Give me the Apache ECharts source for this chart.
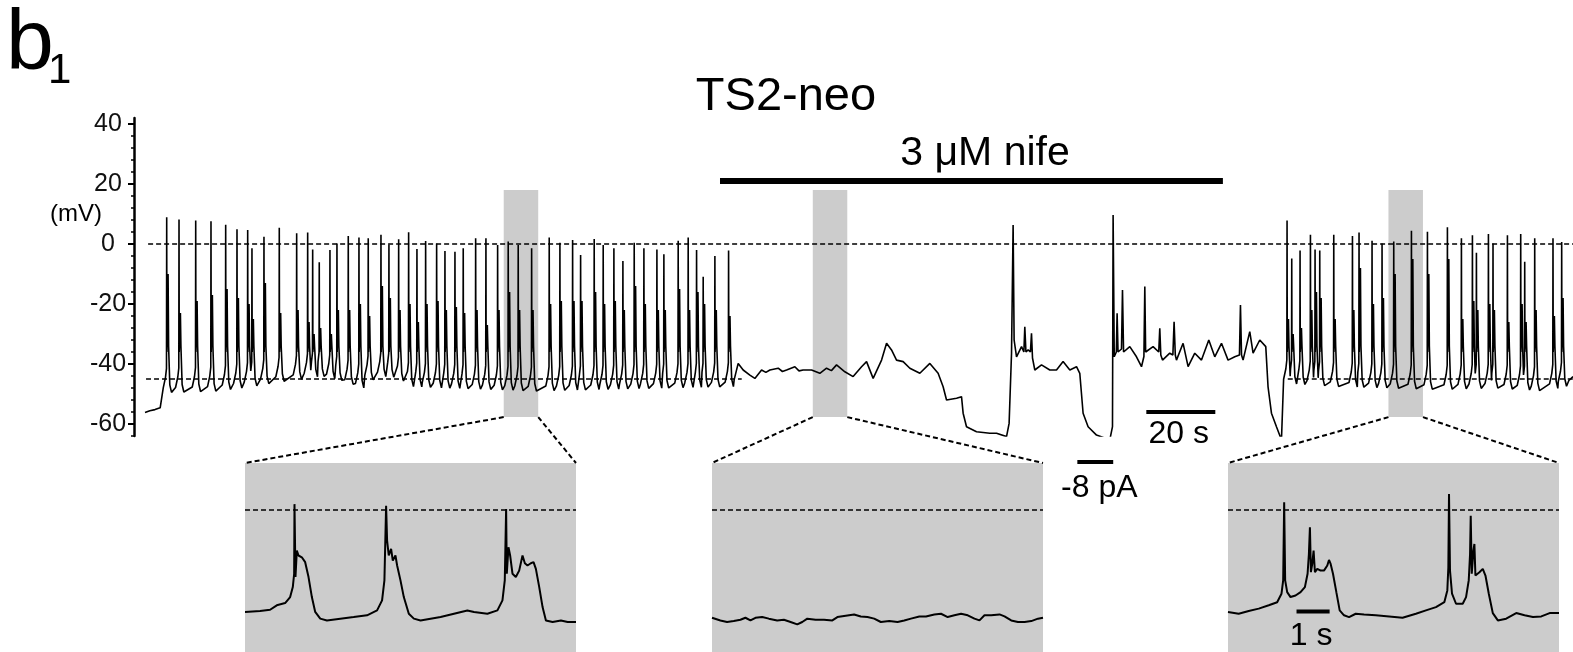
<!DOCTYPE html>
<html><head><meta charset="utf-8">
<script src="https://cdn.jsdelivr.net/npm/echarts@6/dist/echarts.min.js"></script>
<style>html,body{margin:0;padding:0;background:#fff}#chart{width:1573px;height:652px}</style>
</head><body><div id="chart"></div>
<script>
// ---------------- DATA ----------------
// main recording: time in s, membrane potential in mV
const yTickLabels = [-60, -40, -20, 0, 20, 40];
const yMinorTicks = [-64, -56, -52, -48, -44, -36, -32, -28, -24, -16, -12, -8, -4, 4, 8, 12, 16, 24, 28, 32, 36];

// spike times (s), peak potentials (mV) and after-depolarisation heights (mV)
const spikeTimes = [6.29, 9.86, 14.70, 19.13, 23.39, 26.67, 29.77, 31.01, 34.49, 38.93, 43.97, 47.16, 48.61, 50.52, 53.62, 55.65, 58.93, 62.03, 64.72, 68.41, 70.72, 73.54, 76.43, 78.84, 81.36, 84.55, 86.96,
  89.86, 92.26, 95.86, 98.84, 102.23, 105.30, 108.20, 112.09, 117.19, 120.29, 123.97, 126.29, 130.23, 132.84, 135.94, 138.55, 141.83, 144.64, 148.41, 150.43, 154.58, 157.48, 159.91, 161.83, 165.22, 169.19,
  331.10, 332.46, 334.87, 337.88, 339.22, 340.58, 344.64, 350.06, 351.97, 355.74, 358.64, 362.03, 367.16, 371.80, 377.59, 381.65, 384.84, 386.00, 389.48, 390.81, 394.99, 398.84, 400.00, 402.90, 408.20, 410.72];
const spikePeaks = [8.9, 8.2, 7.8, 7.6, 6.4, 4.9, 4.7, -1.4, 2.4, 5.4, 3.6, 3.8, -1.8, -6.1, -2.0, 0.2, 2.7, 2.2, 1.9, 3.1, -0.2, 1.6, 3.9, -1.7, 1.0, 0.2, -2.3,
  -2.6, -1.4, 1.9, 1.9, -0.3, 0.8, -0.3, -1.4, 2.2, 0.4, 1.3, -3.7, 1.7, -0.3, -1.4, -5.7, 0.4, -1.4, -1.8, -3.4, 1.1, 2.2, -2.0, -10.9, -4.0, -2.2,
  7.8, -4.8, -2.2, 3.1, -1.8, -2.2, 3.1, 2.7, 3.8, 1.1, 0.2, 0.8, 4.4, 4.1, 5.6, 1.9, 2.9, -2.9, 3.3, 0.2, 2.9, 3.3, -5.9, 1.9, 1.9, 0.7];
const spikeAdp = [-10, -23, -19, -17, -15, -18, -20, -25, -13, -23, -22, -26, -30, -28, -30, -22, -22, -20, -24, -14, -18, -22, -20, -26, -20, -19, -22,
  -21, -23, -22, -27, -22, -16, -22, -22, -20, -19, -19, -19, -16, -20, -19, -22, -14, -20, -22, -22, -15, -22, -16, -20, -22, -24,
  -25, -30, -28, -22, -16, -18, -25, -22, -8, -20, -18, -10, -5, -10, -5, -25, -19, -22, -20, -22, -26, -20, -26, -22, -24, -18];
// resting level between spikes [s, mV]
const baseLevel = [[5, -48], [20, -47.5], [30, -46], [37, -44.5], [45, -43.5], [50, -42.5], [56, -44], [62, -46.5], [66, -42.5], [72, -43], [76, -46], [86, -46.5], [100, -47], [112, -47.5], [130, -47], [150, -46.5], [170, -46],
  [330, -45], [345, -46], [360, -46.5], [375, -47], [390, -46.5], [405, -47.5], [414, -45]];
// non-spiking parts of the trace [s, mV]
const traceRaw = [[0, -56.2], [1.4, -55.6], [2.9, -55.2], [4.4, -54.6], [4.8, -54.2],
  [170.8, -45.3], [171.97, -39.8], [173.42, -42], [175.36, -43.7], [176.81, -44.8], [178.75, -42], [180.0, -42.8], [181.16, -42], [183.57, -41.4], [184.8, -42.5], [186.0, -42], [188.41, -40.9], [189.6, -42.3], [190.81, -42], [193.25, -42], [195.65, -43.1], [197.59, -41.4], [199.0, -42.2], [200.49, -40.3], [202.9, -42.6], [205.3, -44.2], [207.74, -40.9], [209.19, -39.2], [211.1, -44.8], [213.54, -38.7], [214.99, -33.1], [216.43, -35.3], [217.88, -38.7], [219.8, -39.2], [221.74, -41.4], [224.64, -43.1], [227.54, -39.8], [229.94, -43.1], [231.39, -47.6], [232.38, -52], [235.28, -51.4], [236.72, -50.9], [237.19, -56.4], [238.17, -60.9], [241.07, -62.6], [244.93, -63.1], [246.87, -63.1], [249.77, -64.2], [250.52, -59.8], [251.22, -36.4], [251.68, 6.3], [251.97, -32], [252.67, -37.6], [254.12, -34.2], [254.8, -36], [255.07, -27.6], [255.4, -36], [256.03, -35.3], [256.7, -36], [257.01, -29.8], [257.3, -38], [257.97, -42], [259.91, -40.3], [262.32, -42], [264.26, -42], [266.17, -39.2], [268.12, -42], [270.06, -40.9], [271.01, -43.1], [271.97, -56.4], [273.42, -60.9], [275.86, -63.7], [279.71, -65.3], [280.49, -60.9], [280.67, 9.7], [281.0, -37.6], [281.6, -36], [281.83, -23.1], [282.1, -36], [282.61, -36.4], [283.1, -35], [283.39, -15.3], [283.7, -36], [284.06, -36.4], [285.51, -34.2], [287.45, -37.6], [288.9, -40.9], [289.6, -37.5], [289.86, -14.2], [290.1, -36], [290.52, -36.4], [292.26, -34.2], [293.9, -36], [294.2, -28.1], [294.5, -37], [294.99, -38.7], [297.1, -36.4], [298.0, -37], [298.35, -25.9], [298.7, -37], [299.04, -38.7], [300.96, -33.1], [302.41, -40.9], [304.35, -36.4], [306.29, -38.7], [308.41, -32], [310.14, -37.6], [312.09, -33.1], [314.0, -38.7], [315.94, -37.6], [317.3, -37], [317.59, -20.3], [317.9, -37], [318.35, -38.7], [320.29, -29.2], [321.25, -36.4], [323.19, -32], [324.93, -34.2], [325.59, -47.6], [326.58, -56.4], [328.03, -60.9], [329.48, -65.3],
  [412.8, -45.5], [414, -44.2]];

// 10-s windows shown enlarged below (s)
const highlightWindows = [[104.0, 114.0], [193.6, 203.6], [360.5, 370.5]];
// nifedipine application (s)
const drugPeriod = [166.7, 312.5];
const drugLabel = '3 μM nife';
// scale bars
const timeBarMain = [290.3, 310.3];     // 20 s
const currentStep = [270.3, 280.7];     // -8 pA step
const timeBarInset = [2.07, 3.07];      // 1 s

// enlarged traces: [s within window, mV]
const inset1 = [[0, -46.0], [0.455, -45.6], [0.758, -45.0], [0.96, -43.0], [1.212, -42.0], [1.364, -39.3], [1.444, -34.8], [1.485, -28.8], [1.495, 2.5], [1.525, -30.3], [1.566, -18.4], [1.616, -20.6], [1.667, -19.9], [1.717, -21.4], [1.768, -20.6], [1.818, -23.6], [1.919, -30.3], [2.02, -39.3], [2.121, -46.0], [2.273, -49.0], [2.475, -49.8], [2.879, -49.0], [3.283, -48.3], [3.687, -47.5], [3.99, -45.3], [4.141, -40.8], [4.212, -31.8], [4.263, 1.8], [4.293, -13.9], [4.343, -20.6], [4.414, -17.6], [4.465, -22.9], [4.545, -20.6], [4.596, -25.1], [4.697, -31.8], [4.798, -39.3], [4.949, -46.8], [5.101, -49.0], [5.303, -49.8], [5.606, -49.0], [5.909, -48.3], [6.313, -46.8], [6.717, -45.3], [6.919, -46.0], [7.323, -46.8], [7.626, -45.3], [7.778, -40.8], [7.848, -31.8], [7.889, 0.3], [7.909, -28.8], [7.96, -16.9], [8.01, -20.6], [8.081, -28.8], [8.182, -30.3], [8.283, -27.4], [8.384, -20.6], [8.455, -24.1], [8.535, -25.1], [8.636, -24.1], [8.717, -23.6], [8.788, -26.6], [8.889, -34.8], [8.99, -43.8], [9.091, -49.8], [9.293, -50.5], [9.545, -49.8], [9.747, -50.5], [10.0, -50.5]];
const inset2 = [[0, -48.6], [0.253, -49.8], [0.455, -50.5], [0.657, -50.1], [0.859, -49.5], [1.01, -48.6], [1.162, -49.8], [1.313, -48.6], [1.515, -48.3], [1.717, -49.0], [1.97, -49.8], [2.172, -49.5], [2.374, -50.5], [2.576, -51.6], [2.727, -50.5], [2.879, -49.0], [3.131, -49.5], [3.384, -49.5], [3.636, -49.8], [3.788, -48.3], [3.99, -47.8], [4.293, -47.1], [4.495, -48.0], [4.697, -48.3], [4.899, -49.0], [5.101, -50.5], [5.354, -50.1], [5.606, -50.5], [5.808, -49.8], [6.01, -49.0], [6.263, -48.0], [6.465, -48.0], [6.717, -47.1], [6.919, -46.8], [7.121, -48.3], [7.323, -47.5], [7.525, -46.8], [7.727, -47.5], [7.929, -49.0], [8.081, -49.8], [8.232, -47.5], [8.434, -47.5], [8.687, -47.1], [8.838, -48.0], [9.04, -49.8], [9.242, -50.5], [9.444, -50.5], [9.646, -50.1], [9.848, -49.0], [10.0, -48.6]];
const inset3 = [[0, -46.0], [0.323, -46.8], [0.626, -45.6], [0.929, -44.5], [1.232, -43.0], [1.485, -41.6], [1.616, -37.8], [1.667, -31.8], [1.697, 3.3], [1.727, -31.8], [1.788, -37.1], [1.889, -39.3], [2.04, -38.6], [2.192, -37.1], [2.323, -34.8], [2.404, -28.8], [2.444, -19.9], [2.475, -7.9], [2.505, -28.1], [2.545, -24.4], [2.586, -18.4], [2.626, -28.1], [2.697, -26.6], [2.798, -27.4], [2.899, -27.4], [3.0, -25.1], [3.051, -22.6], [3.101, -24.4], [3.172, -28.8], [3.273, -37.1], [3.374, -45.3], [3.505, -47.5], [3.657, -48.3], [3.859, -46.8], [4.111, -47.1], [4.465, -47.5], [4.869, -48.0], [5.273, -48.6], [5.677, -46.8], [5.98, -45.3], [6.283, -43.8], [6.535, -41.6], [6.626, -36.3], [6.657, -25.9], [6.677, 7.0], [6.707, -27.4], [6.768, -37.8], [6.889, -42.3], [7.091, -42.3], [7.192, -39.3], [7.273, -31.8], [7.313, -19.9], [7.333, -2.7], [7.364, -28.8], [7.414, -18.4], [7.444, -15.4], [7.475, -29.6], [7.525, -28.8], [7.596, -28.1], [7.697, -26.6], [7.778, -29.6], [7.879, -37.8], [8.0, -46.5], [8.152, -49.8], [8.404, -49.0], [8.707, -46.5], [8.96, -47.5], [9.212, -48.3], [9.465, -48.0], [9.717, -46.5], [10.0, -46.5]];

// ---------------- BUILD ----------------
function interp(arr, t) {
  if (t <= arr[0][0]) return arr[0][1];
  for (let i = 1; i < arr.length; i++) {
    if (t <= arr[i][0]) {
      const a = arr[i - 1], b = arr[i];
      return a[1] + (b[1] - a[1]) * (t - a[0]) / (b[0] - a[0]);
    }
  }
  return arr[arr.length - 1][1];
}
function buildMain() {
  const pts = traceRaw.map(p => p.slice());
  let lastT = -Infinity;
  spikeTimes.forEach((t, i) => {
    const base = interp(baseLevel, t);
    const next = i + 1 < spikeTimes.length ? spikeTimes[i + 1] : Infinity;
    const pre = [[-1.0, base], [-0.35, base + 3.5], [-0.06, base + 6.5]];
    const post = [[0.06, -36], [0.4, spikeAdp[i]], [0.55, -34], [0.9, base + 1], [1.4, base - 1.5]];
    pre.forEach(p => { if (t + p[0] > lastT + 0.05) pts.push([t + p[0], p[1]]); });
    pts.push([t, spikePeaks[i]]);
    lastT = t;
    post.forEach(p => { if (t + p[0] < next - 0.4) { pts.push([t + p[0], p[1]]); lastT = t + p[0]; } });
  });
  pts.sort((a, b) => a[0] - b[0]);
  return pts;
}
const mainTrace = buildMain();

const FONT = "'Liberation Sans', Arial, Helvetica, sans-serif";
const chart = echarts.init(document.getElementById('chart'), null, { renderer: 'canvas' });

const insetLefts = [245, 712, 1228];
const insetData = [inset1, inset2, inset3];
const grids = [{ left: 134, top: 118, width: 1439, height: 318 }];
const xAxes = [{ type: 'value', gridIndex: 0, min: -3.19, max: 414, show: false }];
const yAxes = [
  { type: 'value', gridIndex: 0, min: -64, max: 42, position: 'left',
    axisLine: { show: true, onZero: false, lineStyle: { color: '#000', width: 2.5 } },
    axisTick: { show: true, customValues: yTickLabels, length: 6, lineStyle: { color: '#000', width: 2 } },
    axisLabel: { show: true, customValues: yTickLabels, color: '#111', fontSize: 25, fontFamily: FONT, margin: 26, align: 'center' },
    splitLine: { show: false } },
  { type: 'value', gridIndex: 0, min: -64, max: 42, position: 'left',
    axisLine: { show: false, onZero: false },
    axisTick: { show: true, customValues: yMinorTicks, length: 3, lineStyle: { color: '#000', width: 1.5 } },
    axisLabel: { show: false }, splitLine: { show: false } }
];
insetLefts.forEach((l, i) => {
  grids.push({ left: l, top: 463, width: 331, height: 189, show: true, backgroundColor: '#cccccc', borderWidth: 0 });
  xAxes.push({ type: 'value', gridIndex: i + 1, min: 0, max: 10, show: false });
  yAxes.push({ type: 'value', gridIndex: i + 1, min: -64, max: 21, show: false });
});

const dashed = { color: '#000', type: [5, 3], width: 1.5 };
const series = [
  { type: 'line', xAxisIndex: 0, yAxisIndex: 0, data: [], z: 1, silent: true,
    markArea: { silent: true, itemStyle: { color: '#cccccc' },
      data: highlightWindows.map(w => [{ coord: [w[0], 18] }, { coord: [w[1], -57.7] }]) } },
  { type: 'line', xAxisIndex: 0, yAxisIndex: 0, data: mainTrace, showSymbol: false, symbol: 'none', z: 3,
    lineStyle: { color: '#000', width: 1.6 }, silent: true,
    markLine: { silent: true, symbol: 'none', label: { show: false }, lineStyle: dashed,
      data: [
        [{ coord: [0.9, 0] }, { coord: [414, 0] }],
        [{ coord: [0.3, -45] }, { coord: [173, -45] }],
        [{ coord: [331.3, -45] }, { coord: [414, -45] }],
        [{ coord: [drugPeriod[0], 21], lineStyle: { type: 'solid', width: 6, color: '#000' } }, { coord: [drugPeriod[1], 21] }]
      ] } }
];
insetData.forEach((d, i) => {
  series.push({ type: 'line', xAxisIndex: i + 1, yAxisIndex: i + 2, data: d, showSymbol: false, symbol: 'none', z: 3,
    lineStyle: { color: '#000', width: 2 }, silent: true,
    markLine: { silent: true, symbol: 'none', label: { show: false }, lineStyle: dashed, data: [{ yAxis: 0 }] } });
});

chart.setOption({ animation: false, backgroundColor: '#fff', grid: grids, xAxis: xAxes, yAxis: yAxes, series: series });

// ---------------- ANNOTATIONS ----------------
const P = (xi, yi, pt) => chart.convertToPixel({ xAxisIndex: xi, yAxisIndex: yi }, pt);
const g = [];
function ln(a, b, w, dash) {
  g.push({ type: 'line', silent: true, z: 10, shape: { x1: a[0], y1: a[1], x2: b[0], y2: b[1] },
    style: { stroke: '#000', lineWidth: w, lineDash: dash || null } });
}
function tx(text, x, y, size, align) {
  g.push({ type: 'text', silent: true, z: 10, x: x, y: y,
    style: { text: text, font: size + 'px ' + FONT, fill: '#000', align: align || 'center', verticalAlign: 'middle' } });
}
highlightWindows.forEach((w, i) => {
  const bl = P(0, 0, [w[0], -57.7]), br = P(0, 0, [w[1], -57.7]);
  const tl = P(i + 1, i + 2, [0, 21]), tr = P(i + 1, i + 2, [10, 21]);
  ln(bl, tl, 2, [5, 3]); ln(br, tr, 2, [5, 3]);
});
const b1 = P(0, 0, [timeBarMain[0], -56]), b2 = P(0, 0, [timeBarMain[1], -56]);
ln(b1, b2, 4);
tx('20 s', (b1[0] + b2[0]) / 2 - 2, b1[1] + 22, 32);
const c1 = P(0, 0, [currentStep[0], -72.7]), c2 = P(0, 0, [currentStep[1], -72.7]);
ln(c1, c2, 4);
tx('-8 pA', (c1[0] + c2[0]) / 2 + 4, c1[1] + 26, 32);
const s1 = P(3, 4, [timeBarInset[0], -45.8]), s2 = P(3, 4, [timeBarInset[1], -45.8]);
ln(s1, s2, 4);
tx('1 s', (s1[0] + s2[0]) / 2 - 2, s1[1] + 25, 32);
tx(drugLabel, 985, 154, 41);
tx('TS2-neo', 786, 97, 47);
tx('(mV)', 76, 214, 24);
tx('b', 6, 45, 86, 'left');
tx('1', 48, 71, 42, 'left');
chart.setOption({ graphic: g });
</script></body></html>
